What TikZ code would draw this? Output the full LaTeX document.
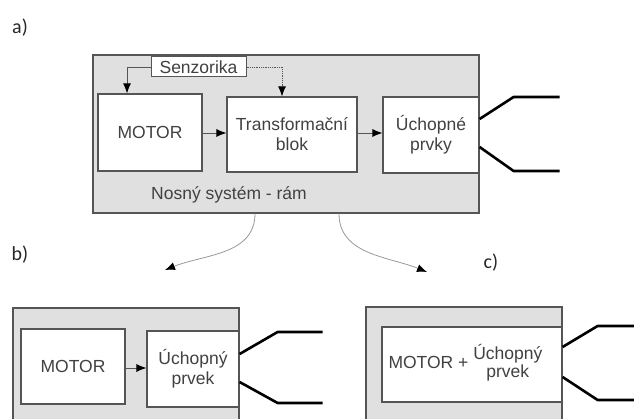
\documentclass[tikz,border=0pt]{standalone}
\usepackage{fontspec}
\setmainfont{Liberation Sans}
\newfontfamily\lettres{Carlito}
\usepackage{tikz}
\usetikzlibrary{calc,arrows.meta}
\definecolor{ramgris}{RGB}{224,224,224}
\definecolor{trait}{RGB}{85,85,85}
\definecolor{texte}{RGB}{65,65,65}
\tikzset{
  rame/.style={draw=trait,fill=ramgris,line width=1.2pt,inner sep=0pt},
  bloc/.style={draw=trait,fill=white,line width=1.2pt,inner sep=0pt,align=center,text=texte},
  fleche/.style={-{Latex[black,length=10pt,width=8pt]},draw=trait,line width=0.8pt},
  pince/.style={line width=2.6pt,line join=round},
  courbe/.style={-{Latex[black,length=10pt,width=8pt]},draw=black!40,line width=0.8pt},
  lettre/.style={font=\lettres\fontsize{20}{22}\selectfont,text=black!85}
}

\begin{document}
\begin{tikzpicture}[x=1pt,y=-1pt,font=\fontsize{17.5}{20}\selectfont]
\useasboundingbox(0,0)rectangle(634,419);
\clip(0,0)rectangle(634,419);
% a)
\node[lettre](la)at(20,28){a)};
\node[rame,minimum width=386pt,minimum height=158pt](rama)at(286,134){};
\node[bloc,minimum width=95pt,minimum height=20pt,line width=1pt](senz)at(198.5,67){Senzorika};
\node[bloc,minimum width=104pt,minimum height=77pt](motor)at(150,132.5){MOTOR};
\node[bloc,minimum width=130pt,minimum height=75pt](trans)at(292,134.5){Transformační\\blok};
\node[bloc,minimum width=96pt,minimum height=76pt](uch)at(431,135){Úchopné\\prvky};
\node[text=texte](nosny)at(229,195){Nosný systém - rám};
\draw[fleche](motor.east|-0,133)--(trans.west|-0,133);
\draw[fleche](trans.east|-0,133)--(uch.west|-0,133);
\draw[fleche](senz.west)-|([xshift=-23pt]motor.north);
\draw[fleche,densely dotted](senz.east)-|([xshift=-10pt]trans.north);
\draw[pince]([yshift=16pt]uch.east)--++(34,-22)--++(46,0);
\draw[pince]([yshift=-12pt]uch.east)--++(34,24)--++(46,0);
% vers b) et c)
\coordinate(pointeb)at(165,270);
\coordinate(pointec)at(427,272);
\draw[courbe]([xshift=-31pt]rama.south)to[out=-90,in=22](pointeb);
\draw[courbe]([xshift=53pt]rama.south)to[out=-90,in=158](pointec);
% b)
\node[lettre](lb)at(20,255){b)};
\node[rame,minimum width=226pt,minimum height=132pt](ramb)at(126,374){};
\node[bloc,minimum width=104pt,minimum height=75pt](motorb)at(73,366.5){MOTOR};
\node[bloc,minimum width=92pt,minimum height=76pt](uchb)at(193,369){Úchopný\\prvek};
\draw[fleche](motorb.east|-0,368)--(uchb.west|-0,368);
\draw[pince]([yshift=15pt]uchb.east)--++(38,-22)--++(45,0);
\draw[pince]([yshift=-13pt]uchb.east)--++(38,21)--++(45,0);
% c)
\node[lettre](lc)at(491,263){c)};
\node[rame,minimum width=196pt,minimum height=133pt](ramc)at(464,373.5){};
\node[bloc,minimum width=180pt,minimum height=75pt](motoruch)at(472,364.5){};
\node[text=texte,anchor=west](motoruchtxt)at(385,364){MOTOR + \begin{tabular}{@{}c@{}}Úchopný\\[-2pt]prvek\end{tabular}};
\draw[pince]([yshift=17.5pt]motoruch.east)--++(35,-21)--++(50,0);
\draw[pince]([yshift=-12.5pt]motoruch.east)--++(35,23)--++(50,0);
\end{tikzpicture}
\end{document}
